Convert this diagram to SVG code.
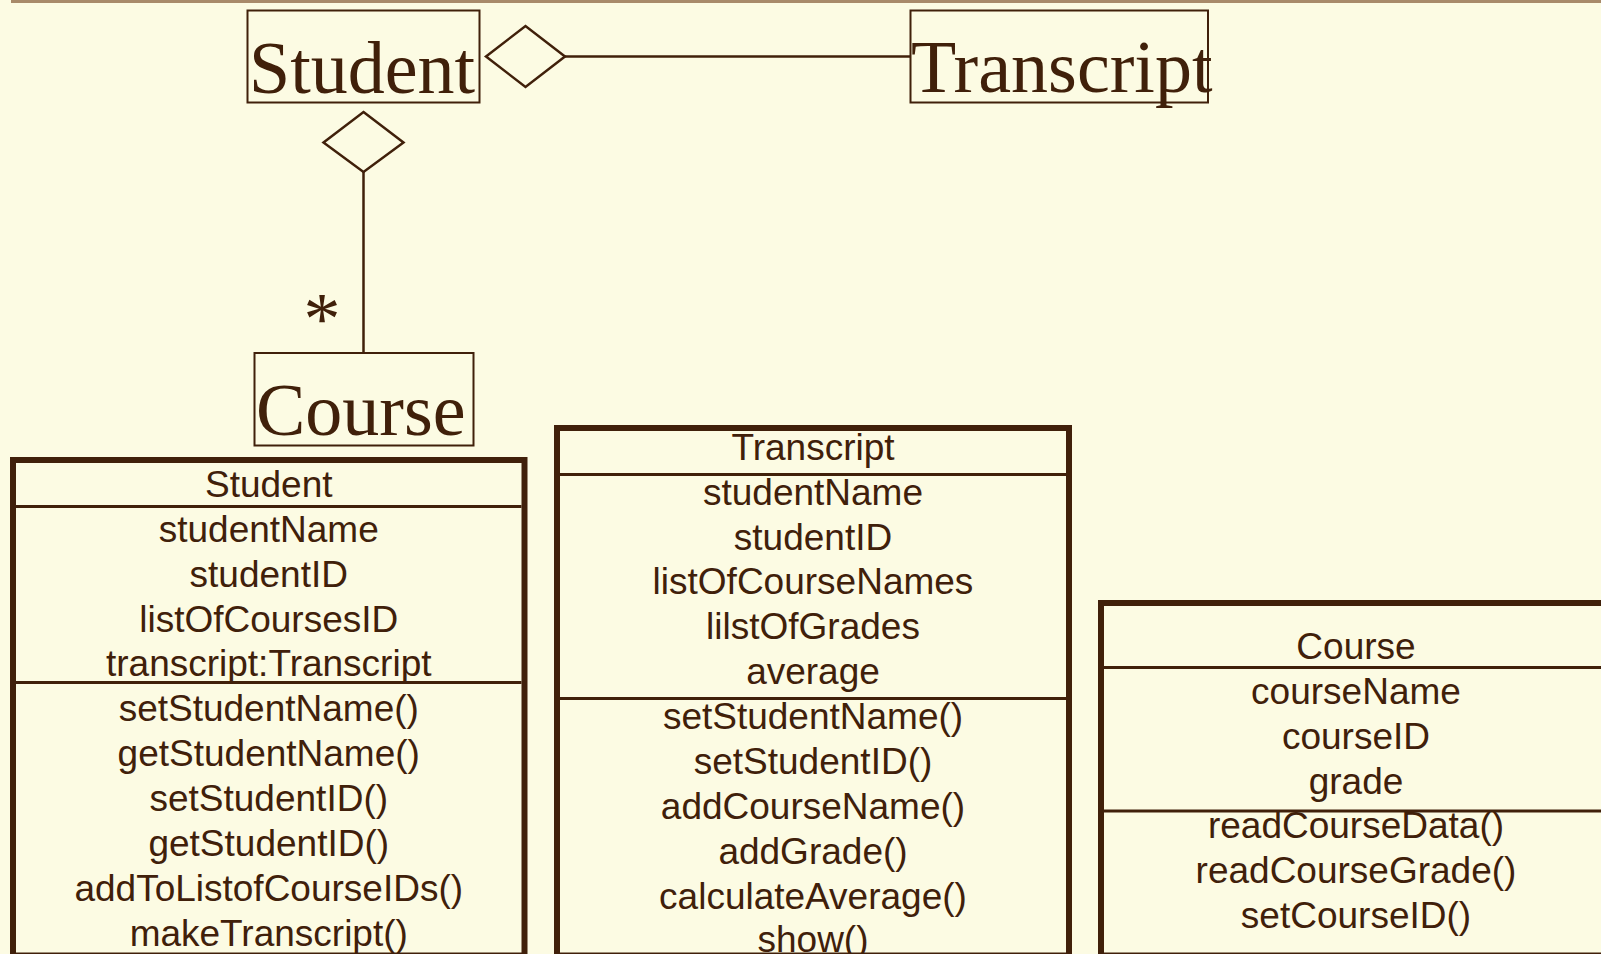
<svg xmlns="http://www.w3.org/2000/svg" width="1601" height="954" viewBox="0 0 1601 954">
  <style>
    .ink { fill: none; stroke: #40200a; }
    .thin { stroke-width: 2; }
    .heavy { stroke-width: 6; }
    .rule { stroke: #40200a; stroke-width: 3; }
    .name { font-family: "Liberation Serif", "Times New Roman", serif; font-size: 74px; fill: #40200a; }
    .mult { font-family: "Liberation Serif", "Times New Roman", serif; font-size: 74px; fill: #40200a; text-anchor: middle; }
    .member { font-family: "Liberation Sans", Arial, sans-serif; font-size: 37px; fill: #40200a; text-anchor: middle; }
    .diamond { fill: #fcfbe3; stroke: #40200a; stroke-width: 2.5; }
  </style>

  <!-- page -->
  <rect x="0" y="0" width="1601" height="954" fill="#fcfbe3"/>
  <rect x="11" y="0" width="1590" height="3" fill="#a88a6a"/>

  <!-- associations -->
  <g id="connectors">
    <line x1="565" y1="56.5" x2="910" y2="56.5" stroke="#40200a" stroke-width="2.5"/>
    <polygon class="diamond" points="486,56.5 525.5,26 565,56.5 525.5,87"/>
    <line x1="363.5" y1="172" x2="363.5" y2="353" stroke="#40200a" stroke-width="2.5"/>
    <polygon class="diamond" points="363.5,112 403.5,142.5 363.5,172 323.5,142.5"/>
    <text class="mult" x="322" y="344">*</text>
  </g>

  <!-- summary classes -->
  <g id="student-summary">
    <rect class="ink thin" x="247.5" y="10.5" width="232" height="92"/>
    <text class="name" x="249" y="93">Student</text>
  </g>
  <g id="transcript-summary">
    <rect class="ink thin" x="910.5" y="10.5" width="297.5" height="92"/>
    <text class="name" x="911" y="92">Transcript</text>
  </g>
  <g id="course-summary">
    <rect class="ink thin" x="254.5" y="353" width="219" height="92.5"/>
    <text class="name" x="256" y="435">Course</text>
  </g>

  <!-- detailed classes -->
  <g id="student-class">
    <line class="rule" x1="16" y1="506.5" x2="521.5" y2="506.5"/>
    <line class="rule" x1="16" y1="682.5" x2="521.5" y2="682.5"/>
    <text class="member" x="268.75" y="497">Student</text>
    <text class="member" x="268.75" y="541.5">studentName</text>
    <text class="member" x="268.75" y="586.5">studentID</text>
    <text class="member" x="268.75" y="631.5">listOfCoursesID</text>
    <text class="member" x="268.75" y="676">transcript:Transcript</text>
    <text class="member" x="268.75" y="721">setStudentName()</text>
    <text class="member" x="268.75" y="766">getStudentName()</text>
    <text class="member" x="268.75" y="811">setStudentID()</text>
    <text class="member" x="268.75" y="856">getStudentID()</text>
    <text class="member" x="268.75" y="901">addToListofCourseIDs()</text>
    <text class="member" x="268.75" y="946">makeTranscript()</text>
    <rect class="ink heavy" x="13" y="460" width="511.5" height="495.5"/>
  </g>

  <g id="transcript-class">
    <line class="rule" x1="560" y1="474.5" x2="1066" y2="474.5"/>
    <line class="rule" x1="560" y1="698.5" x2="1066" y2="698.5"/>
    <text class="member" x="813" y="459.5">Transcript</text>
    <text class="member" x="813" y="504.5">studentName</text>
    <text class="member" x="813" y="549.5">studentID</text>
    <text class="member" x="813" y="594">listOfCourseNames</text>
    <text class="member" x="813" y="639">lilstOfGrades</text>
    <text class="member" x="813" y="684">average</text>
    <text class="member" x="813" y="729">setStudentName()</text>
    <text class="member" x="813" y="774">setStudentID()</text>
    <text class="member" x="813" y="819">addCourseName()</text>
    <text class="member" x="813" y="864">addGrade()</text>
    <text class="member" x="813" y="908.5">calculateAverage()</text>
    <text class="member" x="813" y="952">show()</text>
    <rect class="ink heavy" x="557" y="428" width="512" height="527.5"/>
  </g>

  <g id="course-class">
    <line class="rule" x1="1104" y1="667.5" x2="1601" y2="667.5"/>
    <line class="rule" x1="1104" y1="811" x2="1601" y2="811"/>
    <text class="member" x="1356" y="659">Course</text>
    <text class="member" x="1356" y="704">courseName</text>
    <text class="member" x="1356" y="748.5">courseID</text>
    <text class="member" x="1356" y="793.5">grade</text>
    <text class="member" x="1356" y="838">readCourseData()</text>
    <text class="member" x="1356" y="883">readCourseGrade()</text>
    <text class="member" x="1356" y="928">setCourseID()</text>
    <rect class="ink heavy" x="1101" y="603" width="600" height="352.5"/>
  </g>
</svg>
